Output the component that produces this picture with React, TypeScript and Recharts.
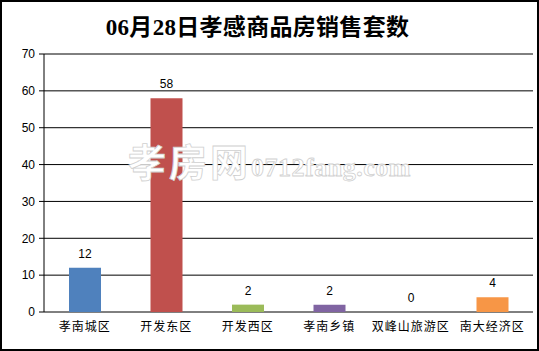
import React from "react";
import { BarChart, Bar, XAxis, YAxis, CartesianGrid, LabelList, Cell } from "recharts";

const categories = ["孝南城区", "开发东区", "开发西区", "孝南乡镇", "双峰山旅游区", "南大经济区"];
const sales = [12, 58, 2, 2, 0, 4];
const barColors = ["#4F81BD", "#C0504D", "#9BBB59", "#8064A2", "#4BACC6", "#F79646"];
const yTicks = [0, 10, 20, 30, 40, 50, 60, 70];
const edgeTicks = [0, 1, 2, 3, 4, 5, 6];
const title = "06月28日孝感商品房销售套数";

const data = categories.map((name, i) => ({ name, value: sales[i] }));

const NoLabel = () => <g />;

export default function App() {
  return (
    <div style={{ position: "absolute", left: 0, top: 0, width: 539, height: 351, background: "#fff" }}>
      <div
        style={{
          position: "absolute",
          left: -12,
          width: 539,
          textAlign: "center",
          top: 13,
          fontFamily: "'Liberation Serif', 'Noto Sans CJK SC', serif",
          fontWeight: "bold",
          fontSize: 23,
          letterSpacing: 0.3,
          lineHeight: "30px",
          color: "#000",
        }}
      >
        {title}
      </div>
      <div style={{ position: "absolute", left: 0, top: 0 }}>
        <BarChart
          width={539}
          height={351}
          data={data}
          margin={{ top: 54, right: 6, bottom: 0, left: 0 }}
        >
          <CartesianGrid vertical={false} stroke="#000" strokeWidth={1} />
          <XAxis
            xAxisId="edge"
            type="number"
            domain={[0, 6]}
            ticks={edgeTicks}
            tick={NoLabel}
            tickSize={6}
            height={0}
            axisLine={{ stroke: "#000" }}
            tickLine={{ stroke: "#000" }}
            allowDataOverflow
          />
          <XAxis
            xAxisId="cat"
            dataKey="name"
            height={39}
            axisLine={false}
            tickLine={false}
            interval={0}
            tickMargin={4}
            tick={{ fill: "#000", fontSize: 12, letterSpacing: 1, fontFamily: "'Noto Sans CJK SC', sans-serif" }}
          />
          <YAxis
            width={44}
            domain={[0, 70]}
            ticks={yTicks}
            interval={0}
            tickSize={5}
            tickMargin={4}
            axisLine={{ stroke: "#000" }}
            tickLine={{ stroke: "#000" }}
            tick={{ fill: "#000", fontSize: 12, fontFamily: "'Liberation Sans', Arial, sans-serif" }}
          />
          <Bar xAxisId="cat" dataKey="value" barSize={32} minPointSize={0.01} isAnimationActive={false}>
            {data.map((d, i) => (
              <Cell key={d.name} fill={barColors[i]} />
            ))}
            <LabelList
              dataKey="value"
              position="top"
              offset={10}
              fill="#000"
              fontSize={12}
              fontFamily="'Liberation Sans', Arial, sans-serif"
            />
          </Bar>
        </BarChart>
      </div>
      <div
        style={{
          position: "absolute",
          left: 128,
          top: 132,
          whiteSpace: "nowrap",
          color: "#fff",
          WebkitTextStroke: "0.8px #d0d0d0",
          pointerEvents: "none",
        }}
      >
        <span style={{ fontFamily: "'Noto Sans CJK SC', sans-serif", fontWeight: "bold", fontSize: 38, letterSpacing: 3 }}>孝房网</span>
        <span style={{ fontFamily: "'Liberation Serif', serif", fontWeight: "bold", fontSize: 26, letterSpacing: 0.5 }}>0712fang.com</span>
      </div>
      <div
        style={{
          position: "absolute",
          left: 0,
          top: 0,
          width: 539,
          height: 351,
          boxSizing: "border-box",
          border: "2px solid #000",
          pointerEvents: "none",
        }}
      />
    </div>
  );
}
